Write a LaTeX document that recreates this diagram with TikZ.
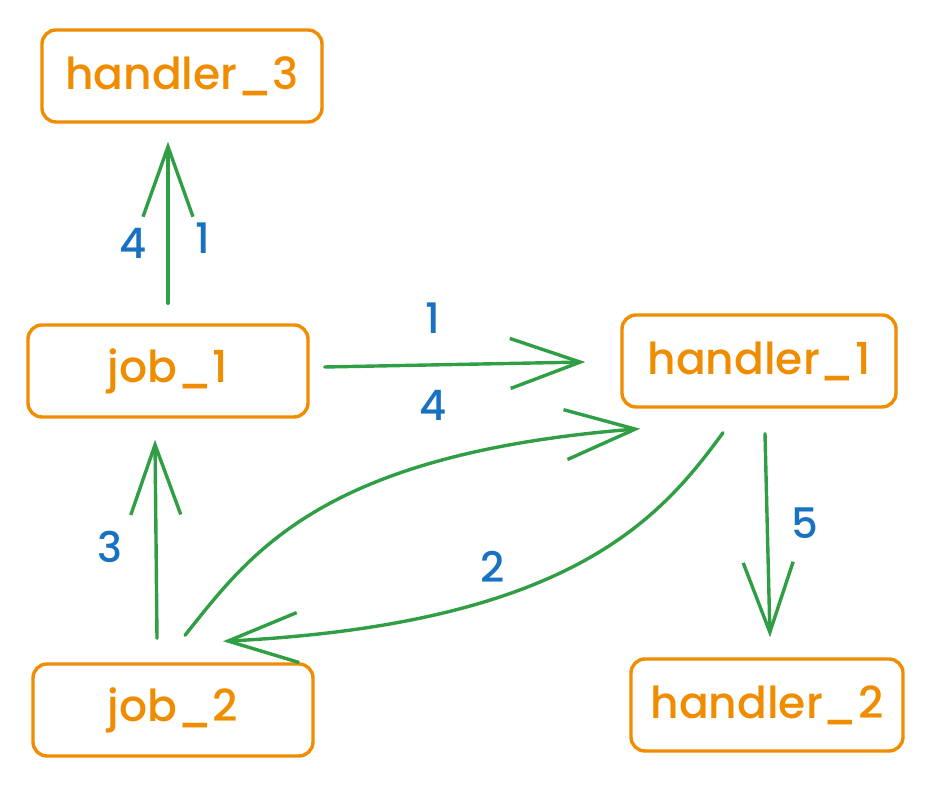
\documentclass[tikz,border=0pt]{standalone}
\usepackage{fontspec}
\setmainfont{Poppins}[UprightFont=* Medium]
\usetikzlibrary{arrows.meta}
\definecolor{exorange}{HTML}{F08C00}
\definecolor{exgreen}{HTML}{2F9E44}
\definecolor{exblue}{HTML}{1971C2}
\tikzset{
  box/.style={draw=exorange, line width=3.4pt, rounded corners=14pt, text=exorange,
    minimum width=#1, minimum height=92pt, inner sep=0pt, font=\fontsize{44}{50}\selectfont},
  box/.default=280pt,
  conn/.style={draw=exgreen, line width=3.4pt, line cap=round, line join=round,
    -{Straight Barb[length=70pt,width=50pt,line width=3.4pt]}},
  lbl/.style={text=exblue, font=\fontsize{42}{46}\selectfont, inner sep=0pt}
}
\begin{document}
\begin{tikzpicture}[x=1pt,y=1pt]
\useasboundingbox (0,0) rectangle (932,789);
\node[box] (h3) at (182,713) {handler\_3};
\node[box] (j1) at (168,418) {job\_1};
\node[box=274pt] (h1) at (759,428) {handler\_1};
\node[box] (j2) at (173,79) {job\_2};
\node[box=272pt] (h2) at (767,84) {handler\_2};
% job_1 -> handler_3
\draw[conn] ([yshift=20pt]j1.north) -- ([shift={(-14pt,-18pt)}]h3.south);
\node[lbl] (l4a) at (133,546) {4};
\node[lbl] (l1a) at (203,551) {1};
% job_1 -> handler_1
\draw[conn] ([shift={(15pt,4pt)}]j1.east) -- ([shift={(-35pt,-1pt)}]h1.west);
\node[lbl] (l1b) at (433,471) {1};
\node[lbl] (l4b) at (433,384) {4};
% job_2 -> job_1
\draw[conn] ([shift={(-16pt,24pt)}]j2.north) -- ([shift={(-13pt,-21pt)}]j1.south);
\node[lbl] (l3) at (110,242) {3};
% job_2 -> handler_1
\draw[conn] ([shift={(12pt,27pt)}]j2.north) .. controls (250,235) and (320,335) .. ([shift={(20pt,-20pt)}]h1.south west);
% handler_1 -> job_2
\draw[conn] ([shift={(-36pt,-24pt)}]h1.south) .. controls (660,270) and (570,165) .. ([shift={(50pt,21pt)}]j2.north);
\node[lbl] (l2) at (493,222) {2};
% handler_1 -> handler_2
\draw[conn] ([shift={(6pt,-25pt)}]h1.south) -- ([shift={(3pt,20pt)}]h2.north);
\node[lbl] (l5) at (805,266) {5};
\end{tikzpicture}
\end{document}
